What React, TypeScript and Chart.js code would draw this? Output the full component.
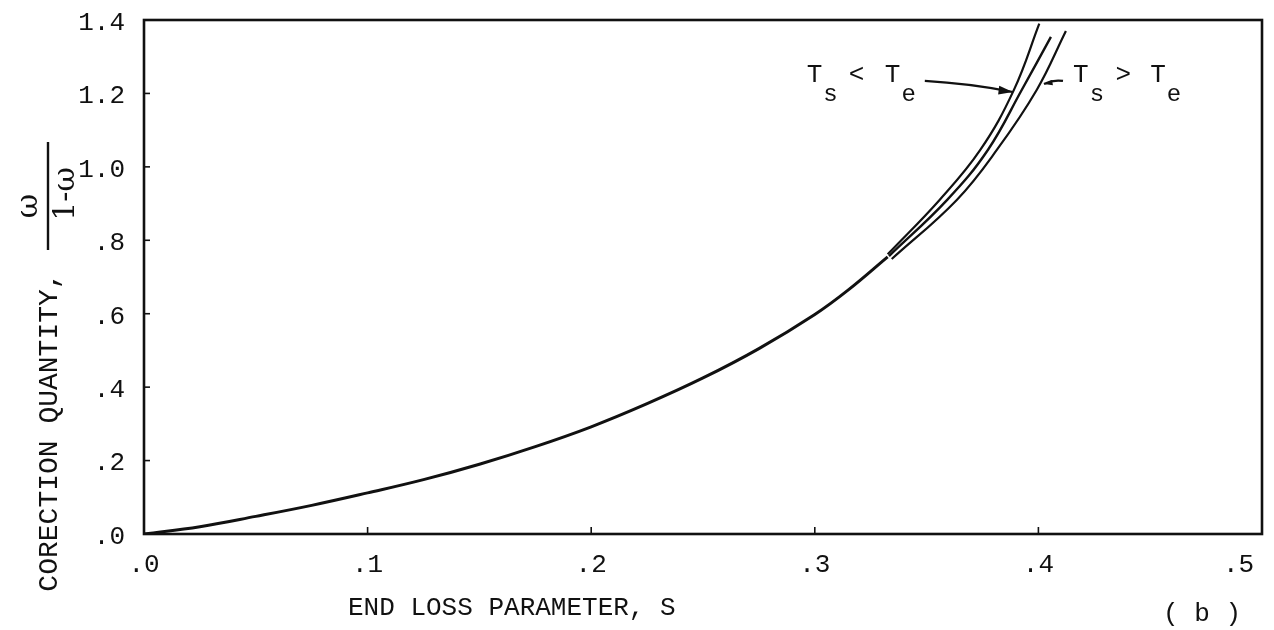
import React, { useEffect, useRef } from "react";
import { Chart, registerables } from "chart.js";

Chart.register(...registerables);

// ---- data ----
const xTickValues = [0, 0.1, 0.2, 0.3, 0.4, 0.5];
const xTickLabels = [".0", ".1", ".2", ".3", ".4", ".5"];
const yTickValues = [0, 0.2, 0.4, 0.6, 0.8, 1.0, 1.2, 1.4];
const yTickLabels = [".0", ".2", ".4", ".6", ".8", "1.0", "1.2", "1.4"];

// common curve (end loss parameter S vs correction quantity)
const mainS = [0, 0.025, 0.05, 0.075, 0.1, 0.125, 0.15, 0.175, 0.2, 0.225, 0.25, 0.275, 0.3, 0.315, 0.3326];
const mainQ = [0, 0.02, 0.048, 0.078, 0.112, 0.148, 0.19, 0.238, 0.292, 0.355, 0.425, 0.505, 0.598, 0.665, 0.755];

// branch Ts < Te (left)
const lowS = [0.3326, 0.3558, 0.3740, 0.3890, 0.4004];
const lowQ = [0.762, 0.91, 1.046, 1.209, 1.39];
// middle branch
const midS = [0.3332, 0.3592, 0.3774, 0.3926, 0.4056];
const midQ = [0.757, 0.91, 1.046, 1.21, 1.354];
// branch Ts > Te (right)
const highS = [0.3344, 0.3635, 0.3814, 0.3993, 0.4123];
const highQ = [0.749, 0.91, 1.046, 1.21, 1.37];

const xTitle = "END LOSS PARAMETER, S";
const yTitle = "CORECTION QUANTITY,";
const panelLabel = "( b )";

const MONO = '"Liberation Mono", "DejaVu Sans Mono", monospace';

function toPts(xs: number[], ys: number[]) {
  return xs.map((x, i) => ({ x, y: ys[i] }));
}

const decorPlugin = {
  id: "decor",
  afterDraw(chart: any) {
    const ctx: CanvasRenderingContext2D = chart.ctx;
    const ca = chart.chartArea;
    const xs = chart.scales.x;
    const ys = chart.scales.y;
    const px = (v: number) => xs.getPixelForValue(v);
    const py = (v: number) => ys.getPixelForValue(v);
    ctx.save();
    ctx.strokeStyle = "#111";
    ctx.fillStyle = "#111";
    // frame
    ctx.lineWidth = 2.6;
    ctx.strokeRect(ca.left, ca.top, ca.right - ca.left, ca.bottom - ca.top);
    // inward ticks
    ctx.lineWidth = 1.6;
    xTickValues.forEach((v) => {
      const x = px(v);
      if (x <= ca.left + 2 || x >= ca.right - 2) return;
      ctx.beginPath();
      ctx.moveTo(x, ca.bottom);
      ctx.lineTo(x, ca.bottom - 7);
      ctx.stroke();
    });
    yTickValues.forEach((v) => {
      const y = py(v);
      if (y <= ca.top + 2 || y >= ca.bottom - 2) return;
      ctx.beginPath();
      ctx.moveTo(ca.left, y);
      ctx.lineTo(ca.left + 6, y);
      ctx.stroke();
    });

    // x title and panel label
    ctx.font = `26px ${MONO}`;
    ctx.textAlign = "left";
    ctx.textBaseline = "middle";
    ctx.fillText(xTitle, 348, 608);
    ctx.fillText(panelLabel, 1163, 614);

    // y title (rotated)
    ctx.save();
    ctx.translate(50, 432);
    ctx.rotate(-Math.PI / 2);
    ctx.textAlign = "center";
    ctx.textBaseline = "middle";
    ctx.font = `28px ${MONO}`;
    ctx.fillText(yTitle, 0, 0);
    ctx.restore();

    // fraction  ω / (1-ω) rotated
    ctx.save();
    ctx.translate(48, 196);
    ctx.rotate(-Math.PI / 2);
    ctx.textAlign = "center";
    ctx.textBaseline = "middle";
    ctx.font = `30px "DejaVu Serif", serif`;
    ctx.fillText("ω", -10, -19);
    ctx.fillText("1-ω", 2, 18);
    ctx.lineWidth = 2.4;
    ctx.beginPath();
    ctx.moveTo(-54, 0);
    ctx.lineTo(54, 0);
    ctx.stroke();
    ctx.restore();

    // annotations
    const drawT = (s: number, q: number, sub: string) => {
      const x = px(s);
      const y = py(q);
      ctx.textAlign = "left";
      ctx.textBaseline = "alphabetic";
      ctx.font = `26px ${MONO}`;
      ctx.fillText("T", x, y);
      const w = ctx.measureText("T").width;
      ctx.font = `24px ${MONO}`;
      ctx.fillText(sub, x + w + 1, y + 19);
    };
    const drawSym = (s: number, q: number, t: string) => {
      ctx.textAlign = "left";
      ctx.textBaseline = "alphabetic";
      ctx.font = `26px ${MONO}`;
      ctx.fillText(t, px(s), py(q));
    };
    drawT(0.2964, 1.231, "s");
    drawSym(0.3152, 1.231, "<");
    drawT(0.3313, 1.231, "e");
    drawT(0.4155, 1.231, "s");
    drawSym(0.4345, 1.231, ">");
    drawT(0.45, 1.231, "e");

    const arrow = (s0: number, q0: number, s1: number, q1: number, head: number) => {
      const x0 = px(s0), y0 = py(q0), x1 = px(s1), y1 = py(q1);
      ctx.lineWidth = 2.2;
      ctx.beginPath();
      ctx.moveTo(x0, y0);
      ctx.quadraticCurveTo((x0 + x1) / 2, (y0 + y1) / 2 - 3, x1, y1);
      ctx.stroke();
      const a = Math.atan2(y1 - y0, x1 - x0);
      ctx.beginPath();
      ctx.moveTo(x1, y1);
      ctx.lineTo(x1 - head * Math.cos(a - 0.3), y1 - head * Math.sin(a - 0.3));
      ctx.lineTo(x1 - head * Math.cos(a + 0.3), y1 - head * Math.sin(a + 0.3));
      ctx.closePath();
      ctx.fill();
    };
    arrow(0.3492, 1.234, 0.3886, 1.204, 15);
    arrow(0.411, 1.234, 0.4025, 1.226, 9);
    ctx.restore();
  },
};

export default function App() {
  const ref = useRef<HTMLCanvasElement | null>(null);
  useEffect(() => {
    if (!ref.current) return;
    const line = (pts: any[], w: number) => ({
      data: pts,
      borderColor: "#111",
      borderWidth: w,
      pointRadius: 0,
      fill: false,
      tension: 0.4,
    });
    const chart = new Chart(ref.current, {
      type: "line",
      data: {
        datasets: [
          line(toPts(mainS, mainQ), 3),
          line(toPts(lowS, lowQ), 2.2),
          line(toPts(midS, midQ), 2.4),
          line(toPts(highS, highQ), 2.2),
        ] as any,
      },
      options: {
        animation: false,
        responsive: true,
        maintainAspectRatio: false,
        parsing: false as any,
        layout: { padding: { top: 20, right: 12, left: 0, bottom: 0 } },
        plugins: { legend: { display: false }, tooltip: { enabled: false } },
        scales: {
          x: {
            type: "linear",
            min: 0,
            max: 0.5,
            grid: { display: false, drawTicks: false },
            border: { display: false },
            afterBuildTicks: (s: any) => {
              s.ticks = xTickValues.map((v) => ({ value: v }));
            },
            afterFit: (s: any) => {
              s.height = 96;
              s.paddingLeft = 0;
              s.paddingRight = 0;
            },
            ticks: {
              autoSkip: false,
              maxRotation: 0,
              padding: 16,
              color: "#111",
              font: { family: "Liberation Mono", size: 26 },
              // last label sits inside the frame edge in the original
              callback: (_v: any, i: number) =>
                i === xTickLabels.length - 1 ? xTickLabels[i] + "   " : xTickLabels[i],
            },
          },
          y: {
            type: "linear",
            min: 0,
            max: 1.4,
            grid: { display: false, drawTicks: false },
            border: { display: false },
            afterBuildTicks: (s: any) => {
              s.ticks = yTickValues.map((v) => ({ value: v }));
            },
            afterFit: (s: any) => {
              s.width = 144;
              s.paddingTop = 0;
              s.paddingBottom = 0;
            },
            ticks: {
              autoSkip: false,
              padding: 19,
              labelOffset: 3,
              color: "#111",
              font: { family: "Liberation Mono", size: 26 },
              callback: (_v: any, i: number) => yTickLabels[i],
            },
          },
        },
      },
      plugins: [decorPlugin],
    });
    return () => chart.destroy();
  }, []);
  return (
    <div style={{ position: "fixed", left: 0, top: 0, width: 1274, height: 630, background: "#fff" }}>
      <canvas ref={ref} />
    </div>
  );
}
